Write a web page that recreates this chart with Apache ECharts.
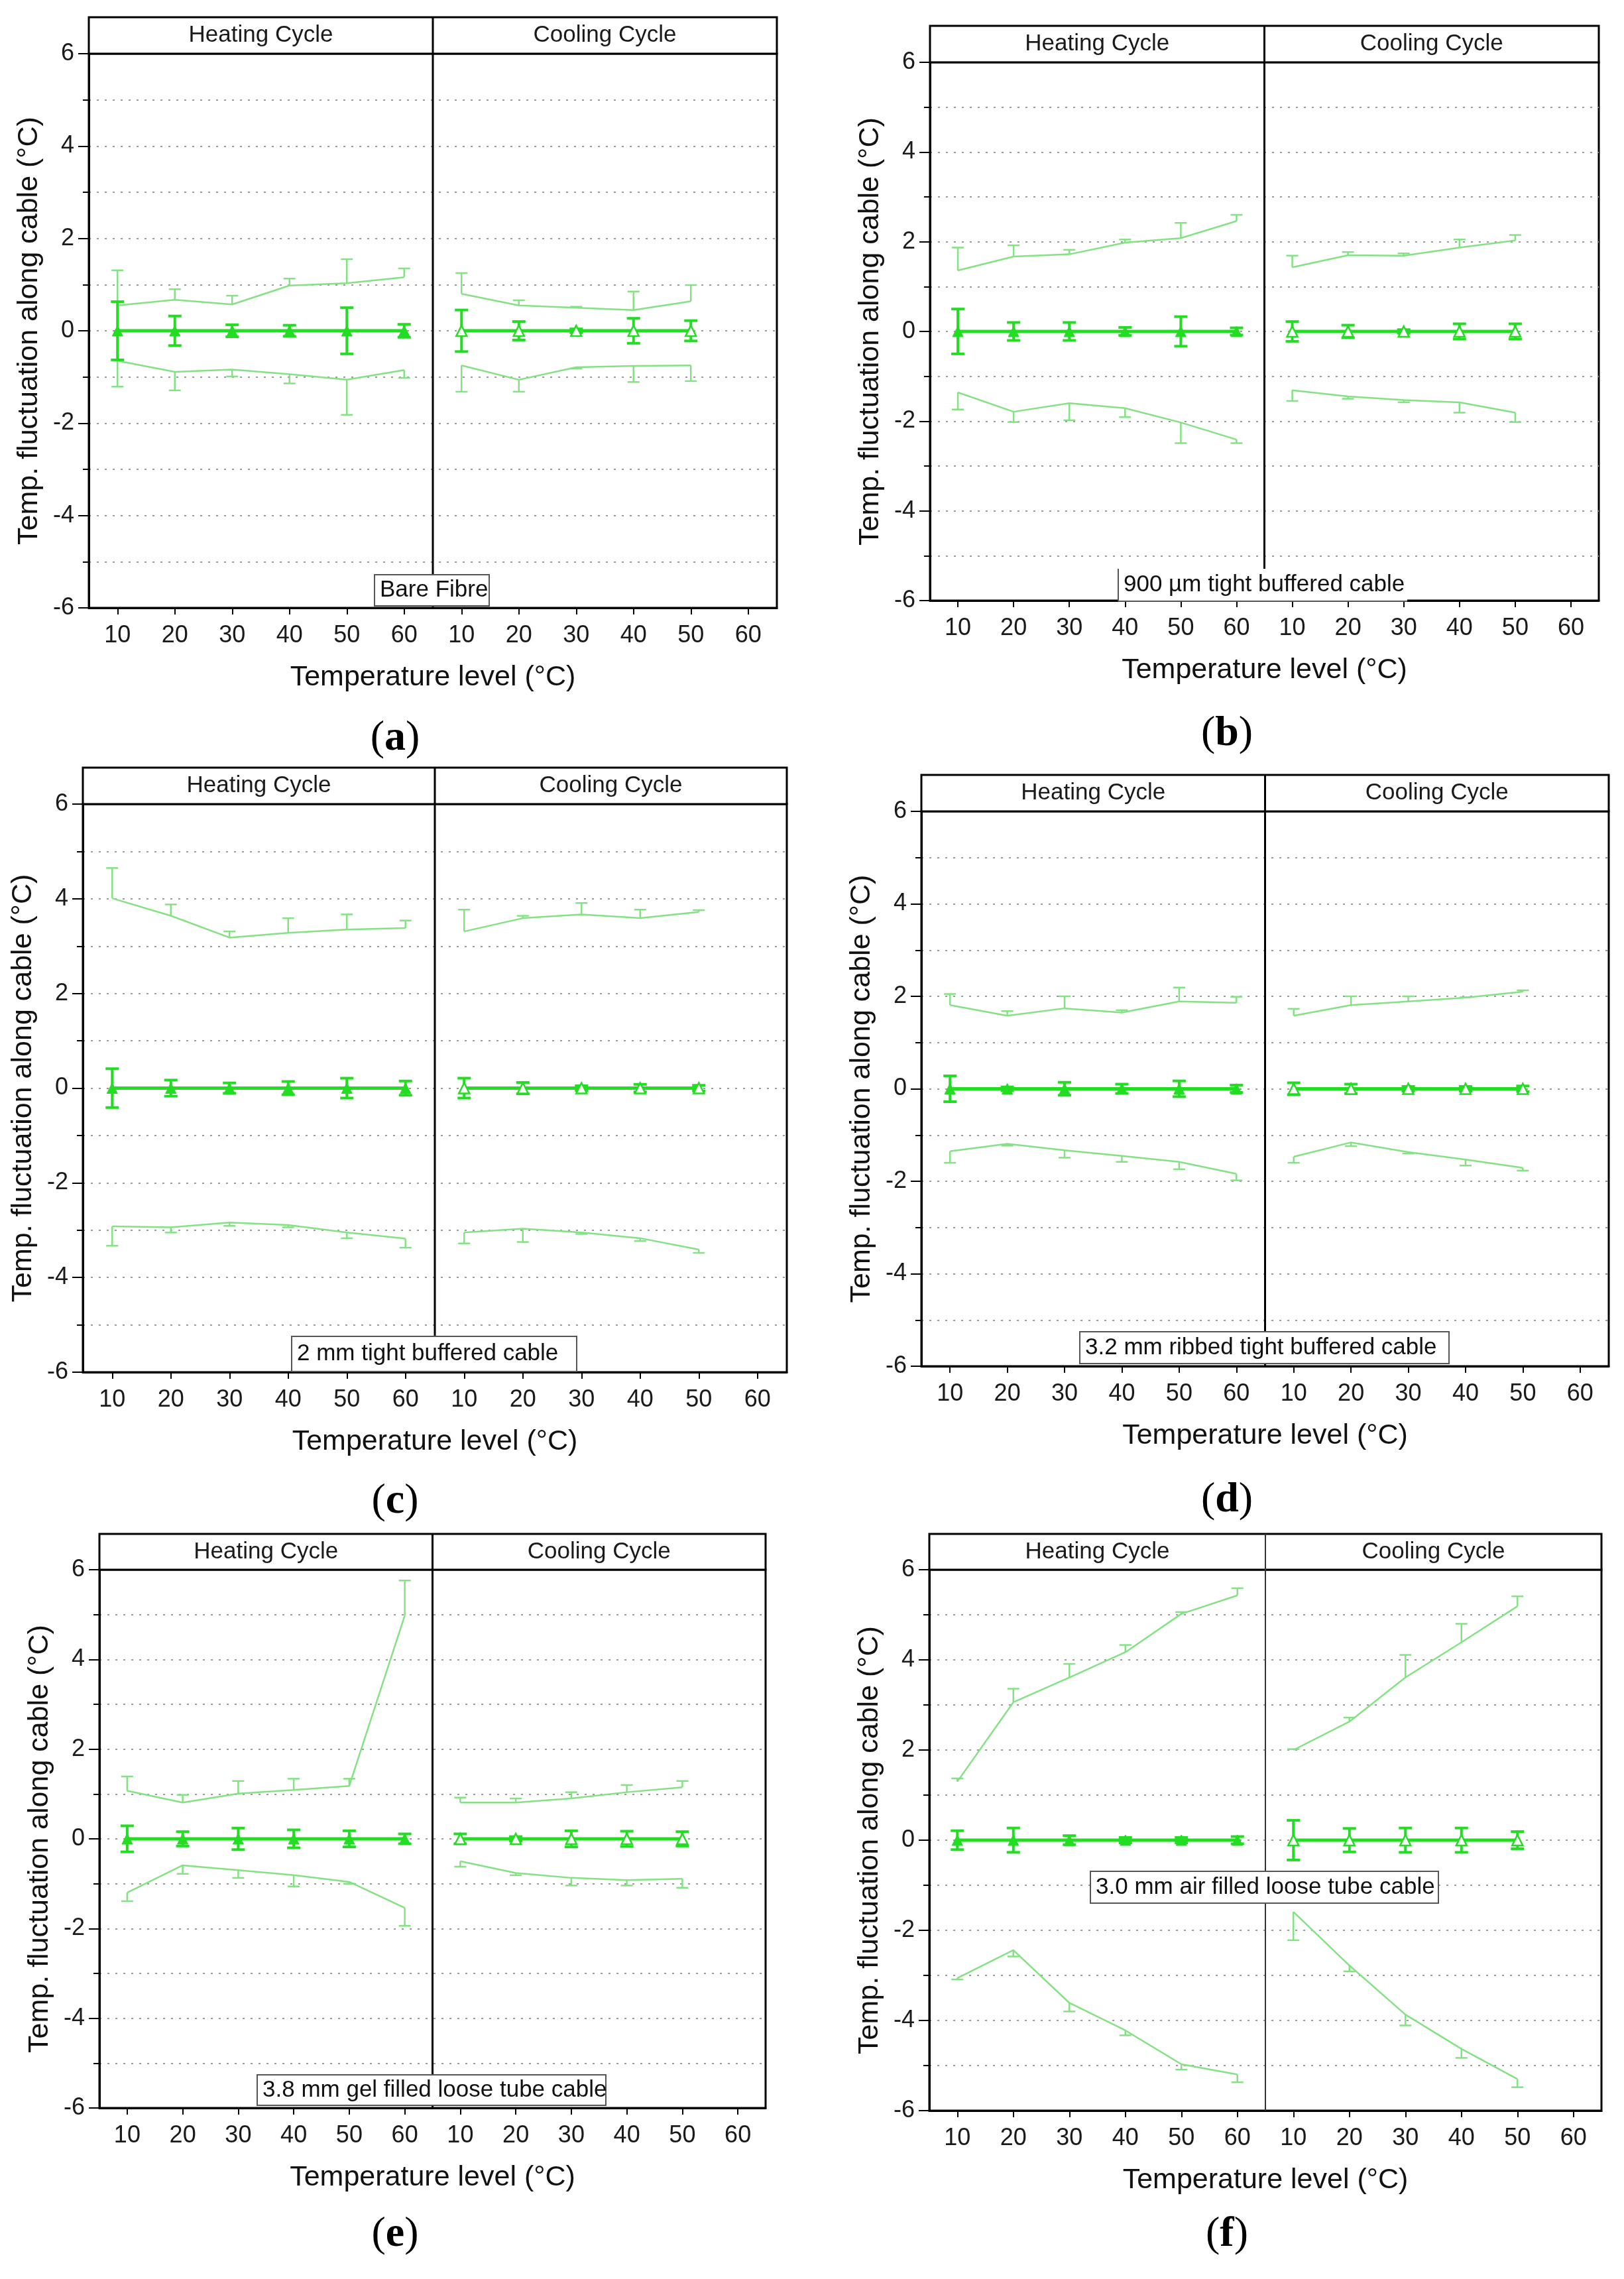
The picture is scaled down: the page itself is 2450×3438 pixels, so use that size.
<!DOCTYPE html>
<html>
<head>
<meta charset="utf-8">
<script src="https://cdn.jsdelivr.net/npm/echarts@6/dist/echarts.min.js"></script>
<style>
html,body{margin:0;padding:0;background:#fff;}
#c{width:2450px;height:3438px;}
</style>
</head>
<body>
<div id="c"></div>
<script>
// ---------------- DATA ----------------
// Each array: 6 heating values (10..60 °C) followed by 5 cooling values (10..50 °C)
const xLabels = ['10','20','30','40','50','60','10','20','30','40','50','60'];
const midValues = [0,0,0,0,0,0, 0,0,0,0,0];

// (a) Bare Fibre
const aUpper    = [0.55,0.67,0.57,0.98,1.03,1.16, 0.80,0.55,0.50,0.45,0.64];
const aUpperEnd = [1.31,0.90,0.76,1.13,1.55,1.35, 1.25,0.66,0.52,0.85,0.99];
const aLower    = [-0.65,-0.89,-0.84,-0.94,-1.06,-0.85, -0.75,-1.06,-0.79,-0.76,-0.75];
const aLowerEnd = [-1.21,-1.29,-0.99,-1.14,-1.82,-1.02, -1.32,-1.32,-0.82,-1.11,-1.09];
const aMidErr   = [0.63,0.32,0.13,0.12,0.50,0.14, 0.45,0.20,0.04,0.27,0.22];

// (b) 900 µm tight buffered cable
const bUpper    = [1.36,1.67,1.72,1.98,2.08,2.46, 1.43,1.70,1.69,1.87,2.03];
const bUpperEnd = [1.87,1.92,1.82,2.05,2.42,2.60, 1.69,1.77,1.74,2.05,2.15];
const bLower    = [-1.36,-1.79,-1.60,-1.71,-2.03,-2.41, -1.31,-1.45,-1.53,-1.58,-1.81];
const bLowerEnd = [-1.74,-2.02,-1.98,-1.91,-2.49,-2.49, -1.55,-1.50,-1.58,-1.81,-2.02];
const bMidErr   = [0.50,0.20,0.20,0.09,0.33,0.08, 0.22,0.14,0.04,0.17,0.17];

// (c) 2 mm tight buffered cable
const cUpper    = [4.01,3.64,3.18,3.28,3.35,3.38, 3.31,3.59,3.67,3.59,3.72];
const cUpperEnd = [4.65,3.88,3.31,3.59,3.67,3.54, 3.77,3.64,3.91,3.77,3.76];
const cLower    = [-2.92,-2.94,-2.84,-2.89,-3.05,-3.18, -3.05,-2.97,-3.05,-3.17,-3.41];
const cLowerEnd = [-3.33,-3.05,-2.91,-2.94,-3.17,-3.37, -3.28,-3.25,-3.08,-3.23,-3.48];
const cMidErr   = [0.41,0.17,0.11,0.14,0.21,0.15, 0.21,0.12,0.05,0.08,0.06];

// (d) 3.2 mm ribbed tight buffered cable
const dUpper    = [1.81,1.58,1.74,1.65,1.89,1.86, 1.58,1.81,1.89,1.97,2.10];
const dUpperEnd = [2.05,1.68,2.00,1.70,2.19,1.99, 1.73,2.00,2.00,1.98,2.13];
const dLower    = [-1.35,-1.19,-1.33,-1.45,-1.58,-1.84, -1.47,-1.16,-1.37,-1.53,-1.71];
const dLowerEnd = [-1.60,-1.23,-1.49,-1.58,-1.74,-1.98, -1.60,-1.24,-1.40,-1.66,-1.77];
const dMidErr   = [0.28,0.04,0.14,0.10,0.17,0.08, 0.13,0.10,0.05,0.05,0.06];

// (e) 3.8 mm gel filled loose tube cable
const eUpper    = [1.07,0.81,1.01,1.09,1.18,4.98, 0.81,0.81,0.90,1.04,1.15];
const eUpperEnd = [1.39,0.98,1.29,1.34,1.34,5.76, 0.92,0.90,1.04,1.20,1.29];
const eLower    = [-1.20,-0.59,-0.70,-0.81,-0.96,-1.54, -0.50,-0.76,-0.87,-0.92,-0.89];
const eLowerEnd = [-1.39,-0.78,-0.87,-1.06,-1.00,-1.94, -0.62,-0.81,-1.04,-1.04,-1.09];
const eMidErr   = [0.29,0.16,0.24,0.20,0.18,0.11, 0.11,0.05,0.18,0.17,0.16];

// (f) 3.0 mm air filled loose tube cable
const fUpper    = [1.30,3.06,3.61,4.17,5.02,5.43, 2.00,2.63,3.61,4.39,5.19];
const fUpperEnd = [1.37,3.36,3.91,4.33,5.06,5.59, 2.02,2.72,4.11,4.80,5.41];
const fLower    = [-3.06,-2.44,-3.61,-4.22,-4.97,-5.20, -1.59,-2.78,-3.87,-4.63,-5.30];
const fLowerEnd = [-3.09,-2.58,-3.80,-4.33,-5.09,-5.37, -2.22,-2.91,-4.11,-4.83,-5.48];
const fMidErr   = [0.21,0.27,0.10,0.06,0.06,0.08, 0.44,0.26,0.27,0.27,0.19];

const headerLabels = ['Heating Cycle', 'Cooling Cycle'];
const xTitle = 'Temperature level (°C)';
const yTitle = 'Temp. fluctuation along cable (°C)';
const yTicks = [-6, 6, 2]; // min, max, interval

// ---------------- LAYOUT ----------------
const panels = [
  {key:'a', d:[aUpper,aUpperEnd,aLower,aLowerEnd,aMidErr], left:134, top:81, width:1038, height:836, headerTop:26,
   box:{x:565,y:867,w:173,h:47,text:'Bare Fibre'}, lab:[596,1114], divW:3},
  {key:'b', d:[bUpper,bUpperEnd,bLower,bLowerEnd,bMidErr], left:1403, top:94, width:1009, height:812, headerTop:39,
   box:{x:1687,y:858,w:436,h:49,text:'900 µm tight buffered cable', noBorder:true}, lab:[1851,1107], divW:3},
  {key:'c', d:[cUpper,cUpperEnd,cLower,cLowerEnd,cMidErr], left:125, top:1213, width:1062, height:857, headerTop:1158,
   box:{x:440,y:2016,w:430,h:53,text:'2 mm tight buffered cable'}, lab:[596,2265], divW:3},
  {key:'d', d:[dUpper,dUpperEnd,dLower,dLowerEnd,dMidErr], left:1390, top:1224, width:1037, height:837, headerTop:1169,
   box:{x:1629,y:2009,w:557,h:48,text:'3.2 mm ribbed tight buffered cable'}, lab:[1851,2263], divW:3},
  {key:'e', d:[eUpper,eUpperEnd,eLower,eLowerEnd,eMidErr], left:150, top:2368, width:1005, height:812, headerTop:2314,
   box:{x:388,y:3130,w:526,h:46,text:'3.8 mm gel filled loose tube cable'}, lab:[596,3371], divW:3},
  {key:'f', d:[fUpper,fUpperEnd,fLower,fLowerEnd,fMidErr], left:1402, top:2368, width:1014, height:816, headerTop:2314,
   box:{x:1645,y:2823,w:525,h:48,text:'3.0 mm air filled loose tube cable'}, lab:[1851,3371], divW:2},
];

const FONT = "'Liberation Sans', Arial, Helvetica, sans-serif";
const SERIF = "'Liberation Serif', 'Times New Roman', serif";
const MID = '#22dd22';
const OUT = '#84e184';
const NH = 6; // number of heating points; cooling points sit at category indices 6..10

function errRender(capW, lw, color){
  return function(params, api){
    const x = api.value(0), lo = api.value(1), hi = api.value(2), both = api.value(3);
    const p1 = api.coord([x, lo]), p2 = api.coord([x, hi]);
    const h = capW / 2;
    const st = {stroke: color, lineWidth: lw};
    const ch = [
      {type:'line', shape:{x1:p1[0],y1:p1[1],x2:p2[0],y2:p2[1]}, style:st},
      {type:'line', shape:{x1:p2[0]-h,y1:p2[1],x2:p2[0]+h,y2:p2[1]}, style:st}
    ];
    if (both) ch.push({type:'line', shape:{x1:p1[0]-h,y1:p1[1],x2:p1[0]+h,y2:p1[1]}, style:st});
    return {type:'group', children: ch};
  };
}

const grids = [], xAxes = [], yAxes = [], series = [];
panels.forEach((p, gi) => {
  grids.push({left:p.left, top:p.top, width:p.width, height:p.height, show:true, borderColor:'#000', borderWidth:3});
  xAxes.push({
    type:'category', gridIndex:gi, data:xLabels, boundaryGap:true, position:'bottom',
    axisLine:{show:true, onZero:false, lineStyle:{color:'#000', width:3}},
    axisTick:{show:true, alignWithLabel:true, length:10, lineStyle:{color:'#000', width:2}},
    axisLabel:{interval:0, fontSize:36, color:'#1a1a1a', fontFamily:FONT, margin:24},
    splitLine:{show:false},
    name:xTitle, nameLocation:'middle', nameGap:84,
    nameTextStyle:{fontSize:43, color:'#111', fontFamily:FONT}
  });
  yAxes.push({
    type:'value', gridIndex:gi, min:yTicks[0], max:yTicks[1], interval:yTicks[2],
    axisLine:{show:true, onZero:false, lineStyle:{color:'#000', width:3}},
    axisTick:{show:true, length:16, lineStyle:{color:'#000', width:2}},
    minorTick:{show:true, splitNumber:2, length:9, lineStyle:{color:'#000', width:2}},
    axisLabel:{fontSize:36, color:'#1a1a1a', fontFamily:FONT, margin:22},
    splitLine:{show:true, lineStyle:{color:'#9a9a9a', width:2, type:[3,9]}},
    minorSplitLine:{show:true, lineStyle:{color:'#9a9a9a', width:2, type:[3,9]}},
    name:yTitle, nameLocation:'middle', nameGap:68,
    nameTextStyle:{fontSize:43, color:'#111', fontFamily:FONT}
  });
  const [up, upEnd, lo, loEnd, midErr] = p.d;
  const outerBars = [], midBars = [];
  const upH = [], upC = [], loH = [], loC = [], midH = [], midC = [];
  up.forEach((v, j) => {
    const x = j; // heating 0..5, cooling 6..10
    outerBars.push([x, up[j], upEnd[j], 0]);
    outerBars.push([x, lo[j], loEnd[j], 0]);
    midBars.push([x, midValues[j] - midErr[j], midValues[j] + midErr[j], 1]);
    if (j < NH){ upH.push([x, up[j]]); loH.push([x, lo[j]]); midH.push([x, midValues[j]]); }
    else { upC.push([x, up[j]]); loC.push([x, lo[j]]); midC.push([x, midValues[j]]); }
  });
  const base = {xAxisIndex:gi, yAxisIndex:gi, silent:true, animation:false};
  series.push(Object.assign({type:'custom', renderItem:errRender(18, 2.5, OUT), data:outerBars, z:3, encode:{x:0, y:[1,2]}}, base));
  [upH, upC, loH, loC].forEach(arr => {
    series.push(Object.assign({type:'line', data:arr, symbol:'none', lineStyle:{color:OUT, width:2.5}, z:3}, base));
  });
  series.push(Object.assign({type:'custom', renderItem:errRender(20, 4, MID), data:midBars, z:4, encode:{x:0, y:[1,2]}}, base));
  series.push(Object.assign({type:'line', data:midH, symbol:'triangle', symbolSize:16, showAllSymbol:true,
    lineStyle:{color:MID, width:5}, itemStyle:{color:MID, borderColor:MID, borderWidth:1}, z:5}, base));
  series.push(Object.assign({type:'line', data:midC, symbol:'triangle', symbolSize:16, showAllSymbol:true,
    lineStyle:{color:MID, width:5}, itemStyle:{color:'#ffffff', borderColor:MID, borderWidth:2.5}, z:5}, base));
});

const chart = echarts.init(document.getElementById('c'), null, {renderer:'canvas'});
chart.setOption({
  backgroundColor:'#ffffff',
  animation:false,
  grid:grids, xAxis:xAxes, yAxis:yAxes, series:series
});

// ---------------- DECORATIONS (positioned from the axes) ----------------
const graphics = [];
panels.forEach((p, gi) => {
  const x5 = chart.convertToPixel({gridIndex:gi}, [5, 0])[0];
  const x6 = chart.convertToPixel({gridIndex:gi}, [6, 0])[0];
  const xd = (x5 + x6) / 2;
  const yTop = chart.convertToPixel({gridIndex:gi}, [0, yTicks[1]])[1];
  const yBot = chart.convertToPixel({gridIndex:gi}, [0, yTicks[0]])[1];
  const xL = p.left, xR = p.left + p.width;
  const hy = (p.headerTop + yTop) / 2;
  graphics.push({type:'rect', z:60, shape:{x:xL, y:p.headerTop, width:xR-xL, height:yTop-p.headerTop},
    style:{fill:'#fff', stroke:'#000', lineWidth:3}});
  graphics.push({type:'line', z:61, shape:{x1:xd, y1:p.headerTop, x2:xd, y2:yBot},
    style:{stroke: p.divW < 3 ? '#333' : '#000', lineWidth:p.divW}});
  graphics.push({type:'text', z:62, x:(xL+xd)/2, y:hy,
    style:{text:headerLabels[0], fontSize:35, fontFamily:FONT, fill:'#1a1a1a', align:'center', verticalAlign:'middle'}});
  graphics.push({type:'text', z:62, x:(xd+xR)/2, y:hy,
    style:{text:headerLabels[1], fontSize:35, fontFamily:FONT, fill:'#1a1a1a', align:'center', verticalAlign:'middle'}});
  const b = p.box;
  graphics.push({type:'rect', z:70, shape:{x:b.x, y:b.y, width:b.w, height:b.h},
    style:{fill:'#fff', stroke: b.noBorder ? null : '#555', lineWidth:2}});
  if (b.noBorder){
    graphics.push({type:'line', z:71, shape:{x1:b.x, y1:b.y, x2:b.x, y2:b.y+b.h}, style:{stroke:'#555', lineWidth:2}});
    graphics.push({type:'line', z:71, shape:{x1:b.x, y1:b.y+b.h, x2:b.x+b.w, y2:b.y+b.h}, style:{stroke:'#555', lineWidth:2}});
  }
  graphics.push({type:'text', z:72, x:b.x+8, y:b.y+b.h/2,
    style:{text:b.text, fontSize:35, fontFamily:FONT, fill:'#111', align:'left', verticalAlign:'middle'}});
  graphics.push({type:'text', z:72, x:p.lab[0], y:p.lab[1],
    style:{text:'{n|(}{b|' + p.key + '}{n|)}', align:'center', verticalAlign:'middle',
      rich:{n:{fontSize:64, fontFamily:SERIF, fill:'#000'},
            b:{fontSize:64, fontWeight:'bold', fontFamily:SERIF, fill:'#000'}}}});
});
chart.setOption({graphic:{elements:graphics}});
</script>
</body>
</html>
